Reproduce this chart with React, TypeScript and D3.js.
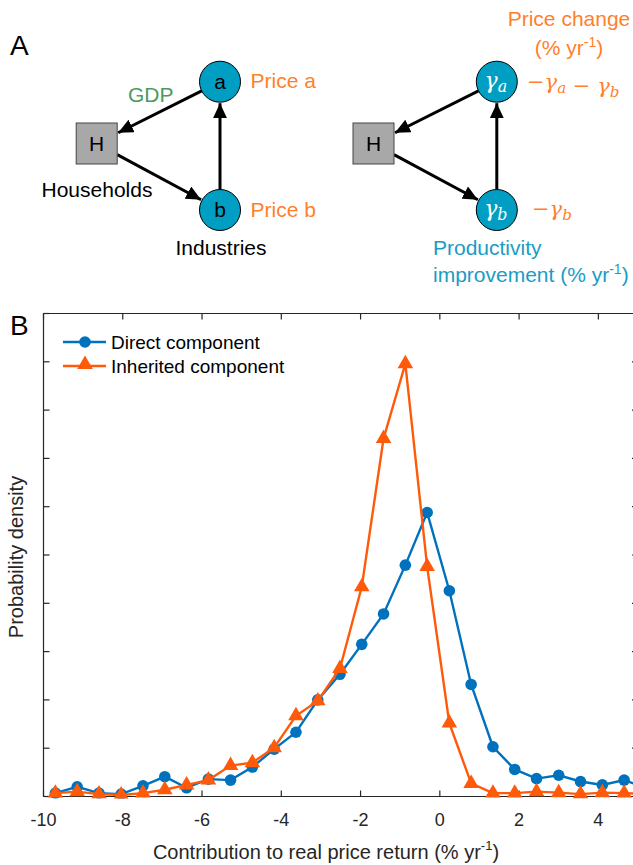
import React from "react";
import * as d3 from "d3";

// bin centres (% yr-1) and densities
const binCenters = [
  -9.7, -9.15, -8.6, -8.04, -7.49, -6.94, -6.39, -5.84, -5.28, -4.73, -4.18, -3.63, -3.08, -2.52,
  -1.97, -1.42, -0.87, -0.32, 0.24, 0.79, 1.34, 1.89, 2.44, 3.0, 3.55, 4.1, 4.65, 5.2,
];
const directComponent = [
  0.07, 0.2, 0.07, 0.05, 0.22, 0.41, 0.18, 0.36, 0.34, 0.61, 0.98, 1.33, 2.0, 2.53, 3.15, 3.78,
  4.79, 5.88, 4.26, 2.32, 1.03, 0.56, 0.37, 0.44, 0.31, 0.24, 0.34, 0.18,
];
const inheritedComponent = [
  0.07, 0.1, 0.05, 0.03, 0.07, 0.14, 0.24, 0.34, 0.64, 0.7, 1.01, 1.67, 1.98, 2.65, 4.34, 7.41,
  8.96, 4.76, 1.52, 0.27, 0.07, 0.07, 0.1, 0.08, 0.05, 0.08, 0.07, 0.05,
];
const xTicks = [-10, -8, -6, -4, -2, 0, 2, 4];
const yTicks = [0, 1, 2, 3, 4, 5, 6, 7, 8, 9, 10];

const FONT = "'Liberation Sans', Arial, Helvetica, sans-serif";
const MATH = "'DejaVu Serif', 'Liberation Serif', serif";
const BLUE = "#0072BD";
const ORANGE = "#FF5A0A";
const TEAL = "#009EC2";
const TEXT_ORANGE = "#FF7F2A";
const TEXT_TEAL = "#1A9CC4";
const GDP_GREEN = "#4C9A5E";
const AXIS = "#262626";

// schematic node positions for panel A
const nodeR = 20.5;
const sq = 41;
const leftNet = { h: [96.7, 143.5], a: [220, 81.7], b: [220, 210] };
const shiftRight = 276.8;

const Gamma = ({ sub, size, fill }: { sub: string; size: number; fill: string }) => (
  <>
    <tspan fontFamily={MATH} fontStyle="italic" fill={fill} fontSize={size}>γ</tspan>
    <tspan fontFamily={MATH} fontStyle="italic" fill={fill} fontSize={size * 0.72} dy={size * 0.2}>
      {sub}
    </tspan>
    <tspan dy={-size * 0.2} fontSize={size}></tspan>
  </>
);

function Network({ dx, math }: { dx: number; math: boolean }) {
  const h = [leftNet.h[0] + dx, leftNet.h[1]];
  const a = [leftNet.a[0] + dx, leftNet.a[1]];
  const b = [leftNet.b[0] + dx, leftNet.b[1]];
  const half = sq / 2;

  // a -> H : from circle edge to square right edge
  const uA = [h[0] - a[0], h[1] - a[1]];
  const lA = Math.hypot(uA[0], uA[1]);
  const s1 = [a[0] + (uA[0] / lA) * nodeR, a[1] + (uA[1] / lA) * nodeR];
  const t1 = (a[0] - (h[0] + half + 1)) / -uA[0];
  const e1 = [h[0] + half + 1, a[1] + uA[1] * t1];

  // H -> b
  const uB = [b[0] - h[0], b[1] - h[1]];
  const lB = Math.hypot(uB[0], uB[1]);
  const t2 = half / uB[0];
  const s2 = [h[0] + half, h[1] + uB[1] * t2];
  const e2 = [b[0] - (uB[0] / lB) * (nodeR + 1), b[1] - (uB[1] / lB) * (nodeR + 1)];

  // b -> a
  const s3 = [b[0], b[1] - nodeR];
  const e3 = [a[0], a[1] + nodeR + 1];

  return (
    <g>
      {[
        [s1, e1],
        [s2, e2],
        [s3, e3],
      ].map(([s, e], i) => (
        <line key={i} x1={s[0]} y1={s[1]} x2={e[0]} y2={e[1]} stroke="#000" strokeWidth={3} markerEnd="url(#arrowHead)" />
      ))}
      <rect x={h[0] - half} y={h[1] - half} width={sq} height={sq} fill="#A8A8A8" stroke="#444" strokeWidth={1} />
      <text x={h[0]} y={h[1] + 7.5} textAnchor="middle" fontFamily={FONT} fontSize={21}>H</text>
      <circle cx={a[0]} cy={a[1]} r={nodeR} fill={TEAL} stroke="#000" strokeWidth={1} />
      <circle cx={b[0]} cy={b[1]} r={nodeR} fill={TEAL} stroke="#000" strokeWidth={1} />
      {math ? (
        <>
          <text x={a[0] - 1} y={a[1] + 6} textAnchor="middle">
            <Gamma sub="a" size={22} fill="#fff" />
          </text>
          <text x={b[0] - 1} y={b[1] + 6} textAnchor="middle">
            <Gamma sub="b" size={22} fill="#fff" />
          </text>
        </>
      ) : (
        <>
          <text x={a[0]} y={a[1] + 7} textAnchor="middle" fontFamily={FONT} fontSize={21}>a</text>
          <text x={b[0]} y={b[1] + 7} textAnchor="middle" fontFamily={FONT} fontSize={21}>b</text>
        </>
      )}
    </g>
  );
}

export default function App() {
  const left = 43.5;
  const right = 638;
  const top = 313.5;
  const bottom = 796.5;
  const x = d3.scaleLinear().domain([-10, 5]).range([left, right]);
  const y = d3.scaleLinear().domain([0, 10]).range([bottom, top]);

  const line = d3
    .line<number>()
    .x((_, i) => x(binCenters[i]))
    .y(d => y(d));

  const tri = d3.symbol().type(d3.symbolTriangle).size(105)() as string;

  return (
    <svg width={633} height={865} style={{ position: "absolute", left: 0, top: 0, background: "#fff" }}>
      <defs>
        <marker id="arrowHead" markerUnits="userSpaceOnUse" markerWidth={16} markerHeight={14} refX={15} refY={7} orient="auto">
          <path d="M0,0 L15,7 L0,14 Z" fill="#000" />
        </marker>
        <clipPath id="plotClip">
          <rect x={left - 8} y={top - 10} width={right - left + 8} height={bottom - top + 12} />
        </clipPath>
      </defs>

      {/* Panel A */}
      <text x={10} y={55} fontFamily={FONT} fontSize={28}>A</text>
      <Network dx={0} math={false} />
      <Network dx={shiftRight} math={true} />

      <g fontFamily={FONT} fontSize={21}>
        <text x={128} y={102} fill={GDP_GREEN}>GDP</text>
        <text x={250.5} y={88} fill={TEXT_ORANGE}>Price a</text>
        <text x={250.5} y={217} fill={TEXT_ORANGE}>Price b</text>
        <text x={41.5} y={197} fill="#000">Households</text>
        <text x={175.5} y={255} fill="#000">Industries</text>

        <text x={569} y={26} textAnchor="middle" fill={TEXT_ORANGE}>Price change</text>
        <text x={569} y={55} textAnchor="middle" fill={TEXT_ORANGE}>
          (% yr<tspan fontSize={14} dy={-8}>-1</tspan>
          <tspan dy={8}>)</tspan>
        </text>

        <text x={433} y={255} fill={TEXT_TEAL}>Productivity</text>
        <text x={433} y={282} fill={TEXT_TEAL}>
          improvement (% yr<tspan fontSize={14} dy={-8}>-1</tspan>
          <tspan dy={8}>)</tspan>
        </text>
      </g>

      <text x={527} y={89} fill={TEXT_ORANGE} fontFamily={MATH} fontSize={21}>
        <tspan>−</tspan>
        <Gamma sub="a" size={21} fill={TEXT_ORANGE} />
        <tspan> − </tspan>
        <Gamma sub="b" size={21} fill={TEXT_ORANGE} />
      </text>
      <text x={532} y={216} fill={TEXT_ORANGE} fontFamily={MATH} fontSize={21}>
        <tspan>−</tspan>
        <Gamma sub="b" size={21} fill={TEXT_ORANGE} />
      </text>

      {/* Panel B */}
      <text x={10} y={335} fontFamily={FONT} fontSize={28}>B</text>

      <g stroke={AXIS} strokeWidth={1.2} fill="none">
        <line x1={left} y1={top} x2={right} y2={top} />
        <line x1={left} y1={bottom} x2={right} y2={bottom} />
        <line x1={left} y1={top} x2={left} y2={bottom} />
        <line x1={right} y1={top} x2={right} y2={bottom} />
        {xTicks.map(t => (
          <g key={t}>
            <line x1={x(t)} x2={x(t)} y1={bottom} y2={bottom - 6} />
            <line x1={x(t)} x2={x(t)} y1={top} y2={top + 6} />
          </g>
        ))}
        {yTicks.map(t => (
          <g key={t}>
            <line x1={left} x2={left + 6} y1={y(t)} y2={y(t)} />
            <line x1={right} x2={right - 6} y1={y(t)} y2={y(t)} />
          </g>
        ))}
      </g>

      <g fontFamily={FONT} fontSize={18} fill={AXIS} textAnchor="middle">
        {xTicks.map(t => (
          <text key={t} x={x(t)} y={826}>{t}</text>
        ))}
      </g>
      <text x={326} y={859} textAnchor="middle" fontFamily={FONT} fontSize={20} fill={AXIS}>
        Contribution to real price return (% yr<tspan fontSize={13} dy={-9}>-1</tspan>
        <tspan dy={9}>)</tspan>
      </text>
      <text transform={`translate(23,${(top + bottom) / 2 + 2}) rotate(-90)`} textAnchor="middle" fontFamily={FONT} fontSize={20} fill={AXIS}>
        Probability density
      </text>

      <g clipPath="url(#plotClip)">
        <path d={line(directComponent) as string} fill="none" stroke={BLUE} strokeWidth={2.4} />
        {directComponent.map((d, i) => (
          <circle key={i} cx={x(binCenters[i])} cy={y(d)} r={5.8} fill={BLUE} />
        ))}
        <path d={line(inheritedComponent) as string} fill="none" stroke={ORANGE} strokeWidth={2.4} />
        {inheritedComponent.map((d, i) => (
          <path key={i} d={tri} transform={`translate(${x(binCenters[i])},${y(d)})`} fill={ORANGE} />
        ))}
      </g>

      {/* legend */}
      <g fontFamily={FONT} fontSize={19} fill="#000">
        <line x1={63} x2={106} y1={342} y2={342} stroke={BLUE} strokeWidth={2.4} />
        <circle cx={85} cy={342} r={5.8} fill={BLUE} />
        <text x={111} y={349}>Direct component</text>
        <line x1={63} x2={106} y1={366} y2={366} stroke={ORANGE} strokeWidth={2.4} />
        <path d={tri} transform="translate(85,364.5)" fill={ORANGE} />
        <text x={111} y={373}>Inherited component</text>
      </g>
    </svg>
  );
}
